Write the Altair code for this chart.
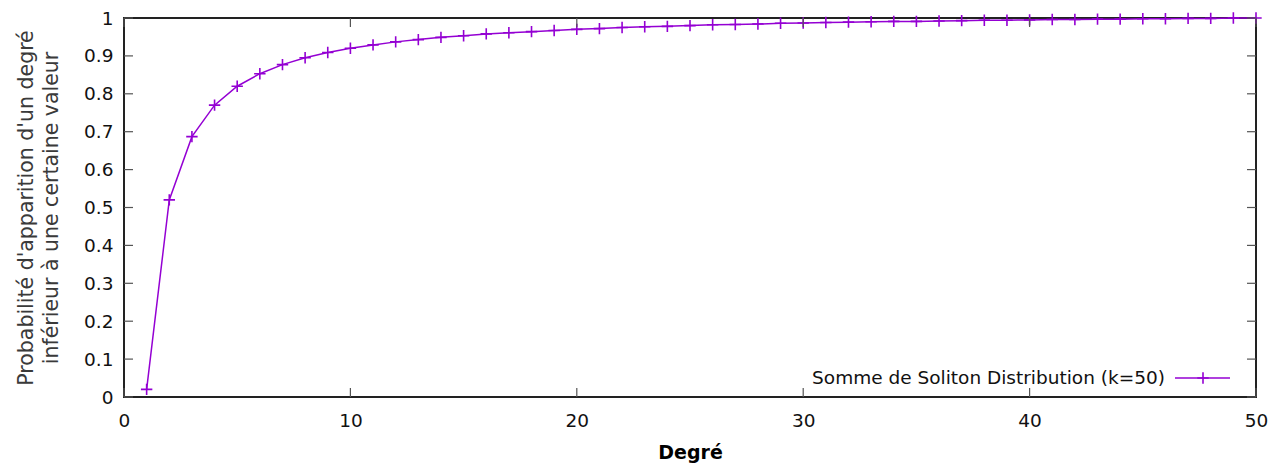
import altair as alt
import pandas as pd

# Data
degree = list(range(1, 51))
cumprob = [0.02, 0.52, 0.687, 0.77, 0.82, 0.853, 0.877, 0.895, 0.909, 0.92,
           0.929, 0.937, 0.943, 0.949, 0.953, 0.958, 0.961, 0.964, 0.967, 0.97,
           0.972, 0.975, 0.977, 0.978, 0.98, 0.982, 0.983, 0.984, 0.986, 0.987,
           0.988, 0.989, 0.99, 0.991, 0.991, 0.992, 0.993, 0.994, 0.994, 0.995,
           0.996, 0.996, 0.997, 0.997, 0.998, 0.998, 0.999, 0.999, 1.0, 1.0]
x_ticks = [0, 10, 20, 30, 40, 50]
y_ticks = [0, 0.1, 0.2, 0.3, 0.4, 0.5, 0.6, 0.7, 0.8, 0.9, 1.0]
legend_label = ["Somme de Soliton Distribution (k=50)"]
x_title = "Degré"
y_title = ["Probabilité d'apparition d'un degré", "inférieur à une certaine valeur"]

W, H = 1132, 379
COLOR = "#9400d3"
FONT = "DejaVu Sans"
PLUS = "M-1,0L1,0M0,-1L0,1"

df = pd.DataFrame({"deg": degree, "p": cumprob})
xt = pd.DataFrame({"t": x_ticks})
yt = pd.DataFrame({"t": y_ticks})

xscale = alt.Scale(domain=[0, 50], nice=False)
yscale = alt.Scale(domain=[0, 1], nice=False)

xaxis = alt.Axis(values=x_ticks, format="d", ticks=False, domain=False, grid=False,
                 labelOverlap=False, labelFlush=False,
                 labelPadding=14, labelFontSize=18.5, labelColor="#111", labelFont=FONT,
                 title=x_title, titleFontSize=19, titleFont=FONT, titleFontWeight="bold",
                 titleColor="#000", titlePadding=14)
yaxis = alt.Axis(values=y_ticks, ticks=False, domain=False, grid=False,
                 labelOverlap=False, labelFlush=False,
                 labelPadding=11, labelFontSize=18.5, labelColor="#111", labelFont=FONT,
                 labelExpr="datum.value == 0 ? '0' : datum.value == 1 ? '1' : format(datum.value, '.1f')",
                 title=y_title, titleFontSize=20.5, titleFont=FONT, titleFontWeight="normal",
                 titleColor="#3a3a3a", titlePadding=22, titleLineHeight=25)

def X(f):
    return alt.X(f, scale=xscale, axis=xaxis)

def Y(f):
    return alt.Y(f, scale=yscale, axis=yaxis)

base = alt.Chart(df)
line = base.mark_line(color=COLOR, strokeWidth=1.5, clip=False).encode(
    x=X("deg:Q"), y=Y("p:Q"))
pts = base.mark_point(shape=PLUS, filled=False, color=COLOR, size=130,
                      strokeWidth=1.6, opacity=1, clip=False).encode(
    x=X("deg:Q"), y=Y("p:Q"))

TL = 9
tick_style = dict(color="#555", strokeWidth=1.2)
bt = alt.Chart(xt).mark_rule(**tick_style).encode(
    x=X("t:Q"), y=alt.value(H), y2=alt.value(H - TL))
tt = alt.Chart(xt).mark_rule(**tick_style).encode(
    x=X("t:Q"), y=alt.value(0), y2=alt.value(TL))
lt = alt.Chart(yt).mark_rule(**tick_style).encode(
    y=Y("t:Q"), x=alt.value(0), x2=alt.value(TL))
rt = alt.Chart(yt).mark_rule(**tick_style).encode(
    y=Y("t:Q"), x=alt.value(W), x2=alt.value(W - TL))

leg_df = pd.DataFrame({"label": legend_label})
leg_text = alt.Chart(leg_df).mark_text(align="right", baseline="middle", fontSize=18.5,
                                       font=FONT, color="#111").encode(
    text="label:N", x=alt.value(1041), y=alt.value(360))
leg_line = alt.Chart(leg_df).mark_rule(color=COLOR, strokeWidth=1.5).encode(
    x=alt.value(1051), x2=alt.value(1106), y=alt.value(360))
leg_pt = alt.Chart(leg_df).mark_point(shape=PLUS, filled=False, color=COLOR, size=130,
                                      strokeWidth=1.6, opacity=1).encode(
    x=alt.value(1079), y=alt.value(360))

chart = alt.layer(line, pts, bt, tt, lt, rt, leg_text, leg_line, leg_pt).properties(
    width=W, height=H,
    autosize=alt.AutoSizeParams(type="none"),
    padding={"left": 116, "top": 10, "right": 13, "bottom": 68},
).configure_view(stroke="#222", strokeWidth=2)

chart.save("out.html", embed_options={"renderer": "svg", "actions": False})
